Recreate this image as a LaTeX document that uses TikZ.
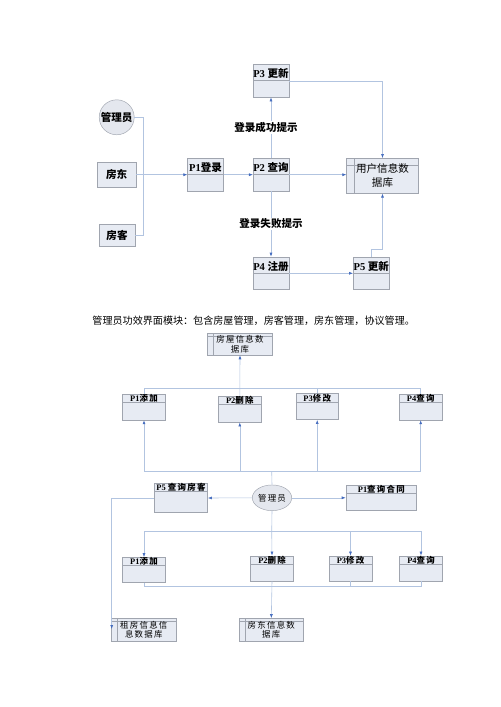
\documentclass[tikz,border=0pt]{standalone}
\usepackage{fontspec}
\setmainfont{Liberation Serif}
\newfontfamily\cjk{Noto Sans CJK SC}
\newfontfamily\cjkwide[LetterSpace=15]{Noto Sans CJK SC}
\usetikzlibrary{arrows.meta,shapes.geometric}
\definecolor{boxfill}{RGB}{231,235,243}
\definecolor{actorfill}{RGB}{228,231,238}
\definecolor{boxline}{RGB}{160,165,175}
\definecolor{linkcol}{RGB}{178,196,224}
\definecolor{tipblue}{RGB}{68,108,190}
\tikzset{
  link/.style={draw=linkcol, line width=0.5pt},
  flow/.style={link, -{Latex[length=1.2mm, width=0.9mm, color=tipblue]}},
  lbl/.style={fill=white, inner sep=1pt, font=\cjk\bfseries\fontsize{9}{10}\selectfont},
  actor/.style={circle, draw=boxline, fill=actorfill, minimum size=1.05cm, inner sep=0pt,
    font=\cjk\bfseries\fontsize{9}{10}\selectfont},
  entity/.style={draw=boxline, fill=boxfill, inner sep=0pt,
    font=\cjk\bfseries\fontsize{9}{10}\selectfont},
  proc/.style={draw=boxline, fill=boxfill, minimum width=1.07cm, inner xsep=0pt,
    inner ysep=0.05cm, text height=0.35cm, text depth=0.53cm,
    font=\bfseries\fontsize{9}{10}\selectfont,
    path picture={\draw[boxline] ([yshift=-0.48cm]path picture bounding box.north west)
      -- ([yshift=-0.48cm]path picture bounding box.north east);}},
  bigstore/.style={draw=boxline, fill=boxfill, align=center, inner sep=0pt,
    font=\cjk\fontsize{9}{12}\selectfont,
    path picture={\draw[boxline] ([yshift=-0.2cm]path picture bounding box.north west)
      -- ([yshift=-0.2cm]path picture bounding box.north east);
      \draw[boxline] ([xshift=0.23cm]path picture bounding box.north west)
      -- ([xshift=0.23cm]path picture bounding box.south west);}},
  % lower diagram
  subproc/.style={draw=boxline, fill=boxfill, minimum width=1.28cm, inner xsep=0pt,
    inner ysep=0.03cm, text height=0.19cm, text depth=0.53cm,
    font=\bfseries\fontsize{7.2}{8}\selectfont,
    path picture={\draw[boxline] ([yshift=-0.25cm]path picture bounding box.north west)
      -- ([yshift=-0.25cm]path picture bounding box.north east);}},
  store/.style={draw=boxline, fill=boxfill, align=center, inner sep=0pt,
    font=\cjkwide\fontsize{7.2}{8}\selectfont,
    path picture={\draw[boxline] ([yshift=-0.1cm]path picture bounding box.north west)
      -- ([yshift=-0.1cm]path picture bounding box.north east);
      \draw[boxline] ([xshift=0.18cm]path picture bounding box.north west)
      -- ([xshift=0.18cm]path picture bounding box.south west);}},
  admin/.style={ellipse, draw=boxline, fill=actorfill, minimum width=1.16cm,
    minimum height=0.77cm, inner sep=0pt, font=\cjkwide\fontsize{7.2}{8}\selectfont}
}
\begin{document}
\begin{tikzpicture}[x=0.03cm,y=-0.03cm]
\useasboundingbox (0,0) rectangle (500,707);
% login flow
\node[actor] (adm) at (116.7,117.3) {管理员};
\node[entity, minimum width=1.16cm, minimum height=0.73cm] (ld) at (116.7,174.7) {房东};
\node[entity, minimum width=1.08cm, minimum height=0.66cm] (tn) at (117,235) {房客};
\node[proc] (p1) at (205.5,174.7) {P1\cjk 登录};
\node[proc] (p2) at (271,174.7) {P2 \cjk 查询};
\node[proc] (p3) at (271,80.8) {P3 \cjk 更新};
\node[proc] (p4) at (271,273.3) {P4 \cjk 注册};
\node[proc, minimum width=1.08cm] (p5) at (371.3,273.3) {P5 \cjk 更新};
\node[bigstore, minimum width=2.15cm, minimum height=1.05cm] (udb) at (382.5,175.8) {用户信息数\\据库};
\coordinate (jn) at (143.3,174.7);
\draw[link] (adm.east) -| (jn);
\draw[link] (tn.east) -| (jn);
\draw[flow] (ld.east) -- (p1.west);
\draw[flow] (p1.east) -- (p2.west);
\draw[flow] (p2.east) -- (p2.east -| udb.west);
\draw[flow] (p2.north) -- node[lbl, xshift=-0.15cm] {登录成功提示} (p3.south);
\draw[flow] (p2.south) -- node[lbl] {登录失败提示} (p4.north);
\draw[flow] (p3.east) -| (udb.north);
\draw[flow] (p4.east) -- (p4.east -| p5.west);
\draw[flow] (p5.north) -- ++(0,-7) -| (udb.south);
\node[font=\cjk\fontsize{8.6}{10}\selectfont] (note) at (253.7,320.7)
  {管理员功效界面模块：包含房屋管理，房客管理，房东管理，协议管理。};
% admin modules
\node[store, minimum width=1.96cm, minimum height=0.65cm] (hdb) at (240,344.2) {房屋信息数\\据库};
\node[subproc] (a1) at (144,407) {P1\cjkwide 添加};
\node[subproc] (a2) at (239.8,409.2) {P2\cjkwide 删除};
\node[subproc] (a3) at (317.2,406.7) {P3\cjkwide 修改};
\node[subproc] (a4) at (420.7,407) {P4\cjkwide 查询};
\coordinate (bus1) at (240,388.3);
\draw[link] (a1.north) |- (bus1) -| (a4.north);
\draw[link] (a3.north) |- (bus1);
\draw[flow] (a2.north) -- (hdb.south);
\node[admin] (mgr) at (272,497.8) {管理员};
\node[subproc, minimum width=1.6cm, text depth=0.63cm] (q5) at (181,498) {P5 \cjkwide 查询房客};
\node[subproc, minimum width=2.12cm, text depth=0.52cm] (qc) at (381.3,497.8) {P1\cjkwide 查询合同};
\coordinate (bus2) at (271.7,471.7);
\draw[link] (mgr.north) -- (bus2);
\draw[flow] (bus2) -| (a1.south);
\draw[flow] (bus2) -| (a2.south);
\draw[flow] (bus2) -| (a3.south);
\draw[flow] (bus2) -| (a4.south);
\draw[flow] (mgr.west) -- (q5.east);
\draw[flow] (mgr.east) -- (qc.west);
\node[subproc, text depth=0.51cm] (b1) at (144,570) {P1\cjkwide 添加};
\node[subproc, text depth=0.51cm] (b2) at (272,568.5) {P2\cjkwide 删除};
\node[subproc, text depth=0.51cm] (b3) at (350.5,568.5) {P3\cjkwide 修改};
\node[subproc, text depth=0.51cm] (b4) at (421,568.5) {P4\cjkwide 查询};
\coordinate (bus3) at (271.7,531.7);
\draw[link] (mgr.south) -- (bus3);
\draw[flow] (bus3) -| (b1.north);
\draw[flow] (bus3) -- (b2.north);
\draw[flow] (bus3) -| (b3.north);
\draw[flow] (bus3) -| (b4.north);
\node[store, minimum width=1.93cm, minimum height=0.68cm] (rdb) at (143.8,629.7) {租房信息信\\息数据库};
\node[store, minimum width=1.92cm, minimum height=0.68cm] (ldb) at (271.3,629.7) {房东信息数\\据库};
\coordinate (bus4) at (271.7,586.7);
\draw[link] (b1.south) |- (bus4) -| (b4.south);
\draw[link] (b3.south) |- (bus4);
\draw[flow] (b2.south) -- (ldb.north);
\coordinate (rin) at (111.7,629);
\draw[flow] (q5.west) -| (rin);
\end{tikzpicture}
\end{document}
